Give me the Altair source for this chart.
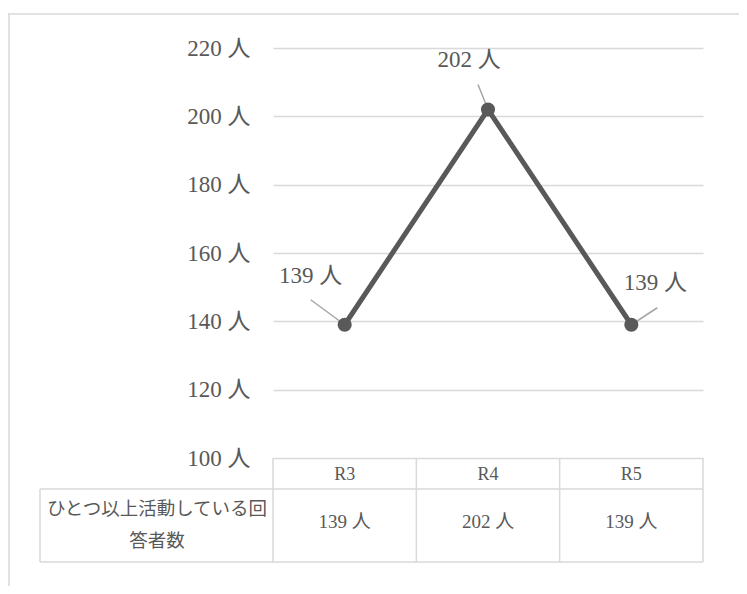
import altair as alt
import pandas as pd

# ---- data ----
categories = ["R3", "R4", "R5"]
values = [139, 202, 139]
y_ticks = [100, 120, 140, 160, 180, 200, 220]
row_header = "ひとつ以上活動している回\n答者数"
unit = " 人"

# ---- layout / style (pixels relative to plot origin) ----
W, H = 430, 410
FONT = "Liberation Serif, Noto Sans CJK JP, serif"
TXT = "#595959"
GRID = "#d9d9d9"
LINE = "#595959"
LEADER = "#a6a6a6"
label_dx = [-34, -19, 24]
label_dy = [-49, -50, -42]
leader_dx = [-34, -10, 26]
leader_dy = [-25, -25, -17]

df = pd.DataFrame({
    "cat": categories,
    "v": values,
    "label": [f"{v}{unit}" for v in values],
})

xenc = alt.X("cat:N", scale=alt.Scale(domain=categories, type="point", padding=0.5), axis=None)
yscale = alt.Scale(domain=[100, 220], nice=False, zero=False)
yenc = alt.Y("v:Q", scale=yscale, axis=alt.Axis(
    values=y_ticks, labelExpr="datum.value + ' 人'", grid=True, gridColor=GRID,
    gridWidth=1.5, domain=False, ticks=False, labelPadding=23, labelFontSize=23,
    labelColor=TXT, labelFont=FONT, title=None))

base = alt.Chart(df)
line = base.mark_line(color=LINE, strokeWidth=5).encode(x=xenc, y=yenc)
pts = base.mark_point(filled=True, color=LINE, size=200, opacity=1).encode(x=xenc, y=alt.Y("v:Q", scale=yscale))

layers = [line]
for i, c in enumerate(categories):
    sub = base.transform_filter(alt.datum.cat == c)
    layers.append(sub.mark_rule(color=LEADER, strokeWidth=1.5,
                                xOffset=leader_dx[i], yOffset=leader_dy[i]).encode(
        x=xenc, y=alt.Y("v:Q", scale=yscale), x2="cat", y2="v"))
    layers.append(sub.mark_text(font=FONT, fontSize=23, color=TXT, dx=label_dx[i], dy=label_dy[i],
                                baseline="middle", align="center").encode(
        x=xenc, y=alt.Y("v:Q", scale=yscale), text="label:N"))
layers.append(pts)

one = alt.Data(values=[{}])
def hrule(y, x1, x2):
    return alt.Chart(one).mark_rule(color=GRID, strokeWidth=1.5, clip=False).encode(
        x=alt.value(x1), x2=alt.value(x2), y=alt.value(y))
def vrule(x, y1, y2):
    return alt.Chart(one).mark_rule(color=GRID, strokeWidth=1.5, clip=False).encode(
        x=alt.value(x), y=alt.value(y1), y2=alt.value(y2))

table = [
    hrule(441, -233, W), hrule(514, -233, W), vrule(-233, 441, 514),
    vrule(0, 410, 514), vrule(W / 3, 410, 514), vrule(2 * W / 3, 410, 514), vrule(W, 410, 514),
    # outer chart frame
    hrule(-34, -265, W + 40), vrule(-264, -34, 540),
]

header = base.mark_text(font=FONT, fontSize=18, color=TXT, baseline="middle").encode(
    x=xenc, y=alt.value(427), text="cat:N")
cells = base.mark_text(font=FONT, fontSize=19, color=TXT, baseline="middle").encode(
    x=xenc, y=alt.value(474), text="label:N")
rowhead = alt.Chart(pd.DataFrame({"t": [row_header]})).mark_text(
    font=FONT, fontSize=18.5, color=TXT, baseline="middle", align="center", lineBreak="\n",
    lineHeight=32).encode(x=alt.value(-116), y=alt.value(461), text="t:N")

chart = alt.layer(*table, *layers, header, cells, rowhead).properties(
    width=W, height=H,
    background="white",
    autosize=alt.AutoSizeParams(type="none"),
    padding={"left": 265, "top": 40, "right": 36, "bottom": 128},
).configure_view(stroke=None)

chart.save("out.html", embed_options={"renderer": "svg", "actions": False})
